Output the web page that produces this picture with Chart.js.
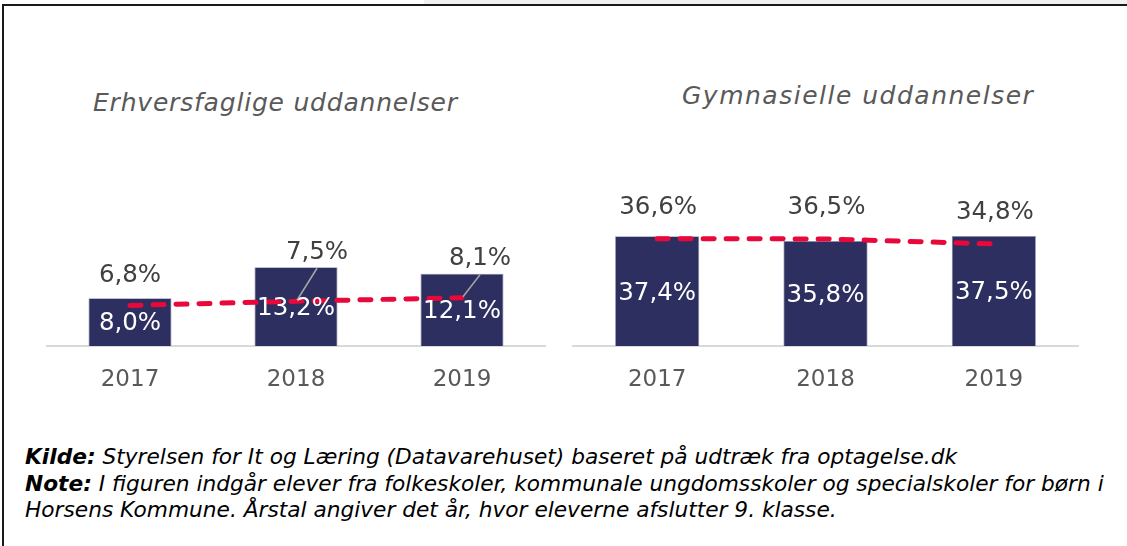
<!DOCTYPE html>
<html><head><meta charset="utf-8">
<script src="https://cdn.jsdelivr.net/npm/chart.js@4"></script>
<style>
html,body{margin:0;padding:0;background:#fff;width:1127px;height:546px;overflow:hidden;font-family:"DejaVu Sans";}
#topstrip{position:absolute;left:424px;top:0;width:703px;height:4px;background:#f0f0f0;}
#frame{position:absolute;left:2px;top:4px;width:1125px;height:542px;border-top:2px solid #1a1a1a;border-left:2px solid #1a1a1a;box-sizing:border-box;}
.title{position:absolute;font-style:italic;color:#595959;font-size:25px;line-height:30px;white-space:nowrap;}
canvas{position:absolute;top:0;}
#note{position:absolute;left:25px;top:444px;font-style:italic;font-size:21.7px;line-height:26.5px;color:#000;white-space:nowrap;}
#note b{font-weight:bold;}
</style>
</head><body>
<div id="topstrip"></div>
<div id="frame"></div>
<div class="title" id="t1" style="left:93px;top:88px;letter-spacing:0.8px;">Erhversfaglige uddannelser</div>
<div class="title" id="t2" style="left:682px;top:81px;letter-spacing:1.5px;">Gymnasielle uddannelser</div>
<canvas id="c1" width="565" height="420" style="left:0;"></canvas>
<canvas id="c2" width="562" height="420" style="left:565px;"></canvas>
<div id="note"><b>Kilde:</b> Styrelsen for It og Læring (Datavarehuset) baseret på udtræk fra optagelse.dk<br><b>Note:</b> I figuren indgår elever fra folkeskoler, kommunale ungdomsskoler og specialskoler for børn i<br>Horsens Kommune. Årstal angiver det år, hvor eleverne afslutter 9. klasse.</div>
<script>
// ---- data ----
const years = ['2017', '2018', '2019'];
const erhvBars = [8.0, 13.2, 12.1];
const erhvLine = [6.8, 7.5, 8.1];
const gymBars = [37.4, 35.8, 37.5];
const gymLine = [36.6, 36.5, 34.8];
const erhvMax = 30;
const gymMax = 60;

// ---- style ----
const barColor = '#2C2F5F';
const lineColor = '#E8083A';
const fmt = v => v.toFixed(1).replace('.', ',') + '%';

const labelPlugin = {
  id: 'vlabels',
  afterDatasetsDraw(chart, args, opts) {
    const ctx = chart.ctx;
    ctx.save();
    ctx.font = opts.size + 'px "DejaVu Sans"';
    ctx.textAlign = 'center';
    ctx.textBaseline = 'middle';
    const barMeta = chart.getDatasetMeta(0), lineMeta = chart.getDatasetMeta(1);
    barMeta.data.forEach((el, i) => {
      ctx.fillStyle = '#ffffff';
      ctx.fillText(fmt(chart.data.datasets[0].data[i]), el.x, (el.y + el.base) / 2 + opts.barShift);
    });
    lineMeta.data.forEach((el, i) => {
      const off = opts.offsets[i];
      const lx = el.x + off[0], ly = el.y + off[1];
      if (opts.leaders[i]) {
        ctx.strokeStyle = '#A6A6A6';
        ctx.lineWidth = 1.5;
        ctx.beginPath();
        ctx.moveTo(lx, ly + 16);
        ctx.lineTo(el.x + 1, el.y - 1);
        ctx.stroke();
      }
      ctx.fillStyle = '#404040';
      ctx.fillText(fmt(chart.data.datasets[1].data[i]), lx, ly);
    });
    ctx.restore();
  }
};

function makeChart(id, bars, line, max, pad, offsets, leaders) {
  return new Chart(document.getElementById(id), {
    data: {
      labels: years,
      datasets: [
        { type: 'bar', data: bars, backgroundColor: barColor, borderColor: '#8E90AE', borderWidth: 0.8,
          barPercentage: 0.5, categoryPercentage: 1, order: 2 },
        { type: 'line', data: line, borderColor: lineColor, borderWidth: 5, borderDash: [11, 12],
          borderCapStyle: 'round', pointRadius: 0, tension: 0, fill: false, order: 1 }
      ]
    },
    options: {
      responsive: false,
      devicePixelRatio: 1,
      animation: false,
      layout: { padding: pad },
      plugins: {
        legend: { display: false },
        tooltip: { enabled: false },
        vlabels: { size: 24.5, barShift: 2, offsets: offsets, leaders: leaders }
      },
      scales: {
        x: {
          grid: { display: false, drawTicks: false },
          border: { display: true, color: '#D9D9D9', width: 2 },
          ticks: { color: '#595959', font: { family: 'DejaVu Sans', size: 23 }, padding: 20 },
          afterFit(s) { s.height = 45; }
        },
        y: { display: false, min: 0, max: max }
      }
    },
    plugins: [labelPlugin]
  });
}

makeChart('c1', erhvBars, erhvLine, erhvMax,
  { left: 47, right: 20, top: 167, bottom: 29 },
  [[0, -30], [21, -49], [18, -39]], [false, true, true]);
makeChart('c2', gymBars, gymLine, gymMax,
  { left: 8, right: 49, top: 170, bottom: 29 },
  [[1, -31], [1, -31], [1, -31]], [false, false, false]);
</script>
</body></html>
